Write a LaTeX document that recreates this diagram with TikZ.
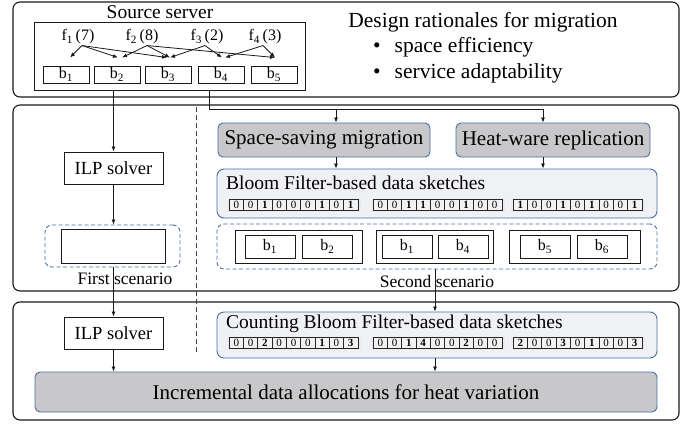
\documentclass[tikz,border=0pt]{standalone}
\usepackage{fontspec}
\setmainfont{Liberation Serif}
\usetikzlibrary{arrows.meta,calc,positioning}
\definecolor{edgeblue}{HTML}{4A6FA5}
\definecolor{boxgray}{HTML}{C8C8CA}
\definecolor{sketchbg}{HTML}{F0F1F4}

% one row of bit cells: name, x, y, values
\newcommand{\sketchrow}[4]{%
  \node[rowbg] (#1) at (#2,#3) {};
  \foreach \v [count=\i] in {#4}
    \node[bitcell] (#1-\i) at ({#2+(\i-5)*14.3},#3) {\ifnum\v>0 \bfseries\fi\v};
}

\begin{document}
\begin{tikzpicture}[
    x=1pt, y=-1pt,
    >={Latex[length=5pt,width=4pt]},
    panel/.style={draw=black!90, line width=1.1pt, rounded corners=7pt},
    plain/.style={draw=black!90, line width=0.9pt, inner sep=0pt},
    blk/.style={plain, minimum width=46pt, minimum height=17pt, font=\fontsize{16}{16}\selectfont},
    flbl/.style={inner sep=1pt, font=\fontsize{16}{16}\selectfont},
    solver/.style={plain, minimum width=99pt, minimum height=32pt, font=\fontsize{18.5}{20}\selectfont},
    method/.style={draw=edgeblue, line width=0.9pt, fill=boxgray, rounded corners=5pt, inner sep=0pt, minimum height=34pt, font=\fontsize{21}{22}\selectfont},
    sketch/.style={draw=edgeblue, line width=0.9pt, fill=sketchbg, rounded corners=7pt, inner sep=0pt, minimum width=440pt},
    scen/.style={draw=edgeblue, dash pattern=on 4pt off 2.5pt, line width=0.9pt, rounded corners=7pt, inner sep=0pt},
    pair/.style={plain, minimum height=33pt},
    pblk/.style={plain, minimum width=50pt, minimum height=23pt, font=\fontsize{16}{16}\selectfont},
    rowbg/.style={fill=black!8, minimum width=134pt, minimum height=13pt, inner sep=0pt},
    bitcell/.style={draw=black!85, line width=0.6pt, fill=white!95!black, minimum width=14.3pt, minimum height=10.5pt, inner sep=0pt, font=\fontsize{11}{11}\selectfont},
    lbl/.style={inner sep=1pt, font=\fontsize{17.5}{18}\selectfont},
    arr/.style={->, draw=black!90, line width=0.8pt}
  ]
  \useasboundingbox (0,0) rectangle (686,429);

  % panels
  \draw[panel] (13,2) rectangle (679,97);
  \draw[panel] (13,105) rectangle (679,291);
  \draw[panel] (13,302) rectangle (679,420);
  \draw[dash pattern=on 5pt off 3pt, black!75, line width=0.8pt] (196,107) -- (196,353);

  % source server
  \node[plain, minimum width=271pt, minimum height=68pt] (srv) at (169.5,56) {};
  \node[inner sep=0pt, font=\fontsize{19.5}{20}\selectfont] (srvtitle) at (160,12) {Source server};
  \node[blk] (b1) at (66,74.5) {b\textsubscript{1}};
  \node[blk] (b2) at (117,74.5) {b\textsubscript{2}};
  \node[blk] (b3) at (168,74.5) {b\textsubscript{3}};
  \node[blk] (b4) at (221,74.5) {b\textsubscript{4}};
  \node[blk] (b5) at (274,74.5) {b\textsubscript{5}};
  \node[flbl] (f1) at (78,37) {f\textsubscript{1}\,(7)};
  \node[flbl] (f2) at (142,37) {f\textsubscript{2}\,(8)};
  \node[flbl] (f3) at (207,37) {f\textsubscript{3}\,(2)};
  \node[flbl] (f4) at (265,37) {f\textsubscript{4}\,(3)};
  \draw[arr] ([xshift=4pt]f1.south) -- ([xshift=4pt,yshift=8pt]b1.north);
  \draw[arr] ([xshift=4pt]f1.south) -- ([xshift=1pt,yshift=8pt]b2.north);
  \draw[arr] ([xshift=4pt]f1.south) -- ([xshift=-1pt,yshift=8pt]b3.north);
  \draw[arr] ([xshift=5pt]f2.south) -- ([xshift=5pt,yshift=8pt]b2.north);
  \draw[arr] ([xshift=5pt]f2.south) -- ([xshift=2pt,yshift=8pt]b3.north);
  \draw[arr] ([xshift=5pt]f2.south) -- ([xshift=1pt,yshift=8pt]b5.north);
  \draw[arr] ([xshift=-2pt]f3.south) -- ([xshift=2pt,yshift=8pt]b3.north);
  \draw[arr] ([xshift=-2pt]f3.south) -- ([xshift=1pt,yshift=8pt]b4.north);
  \draw[arr] ([xshift=-2pt]f4.south) -- ([xshift=4pt,yshift=8pt]b4.north);
  \draw[arr] ([xshift=-2pt]f4.south) -- ([xshift=1pt,yshift=8pt]b5.north);

  % design rationales
  \node[inner sep=0pt, font=\fontsize{21.5}{22}\selectfont] (goal) at (483,22) {Design rationales for migration};
  \node[inner sep=0pt, anchor=west, font=\fontsize{21.5}{22}\selectfont] (goal1) at (373,47) {\textbullet\hspace{14pt}space efficiency};
  \node[inner sep=0pt, anchor=west, font=\fontsize{21.5}{22}\selectfont] (goal2) at (373,73) {\textbullet\hspace{14pt}service adaptability};

  % first scenario
  \node[solver] (ilp1) at (113.5,168) {ILP solver};
  \node[scen, minimum width=135pt, minimum height=42pt] (scen1) at (112.5,246) {};
  \node[plain, minimum width=104pt, minimum height=34pt] (alloc1) at (113,246) {};
  \node[lbl] (scen1lbl) at (125,279) {First scenario};
  \draw[arr] (srv.south -| ilp1) -- (ilp1.north);
  \draw[arr] (ilp1.south) -- (scen1.north -| ilp1);

  % second scenario
  \coordinate (split) at (209,109.5);
  \coordinate (tapA) at (336,109.5);
  \coordinate (tapB) at (543,109.5);
  \node[method, minimum width=212pt] (space) at (324,140) {Space-saving migration};
  \node[method, minimum width=194pt] (heat) at (553,140) {Heat-ware replication};
  \draw[line width=0.8pt, black!90] (srv.south -| split) -- (split) -- (tapA);
  \draw[arr] (tapA) -- (tapB) -- (tapB |- heat.north);
  \draw[arr] (tapA) -- (tapA |- space.north);

  \node[sketch, minimum height=49pt] (bf) at (437,193.5) {};
  \node[inner sep=0pt, anchor=west, font=\fontsize{19.5}{20}\selectfont] (bftitle) at (226,183) {Bloom Filter-based data sketches};
  \draw[arr] (tapA |- space.south) -- (tapA |- bf.north);
  \draw[arr] (tapB |- heat.south) -- (tapB |- bf.north);
  \sketchrow{bfa}{293.5}{205}{0,0,1,0,0,0,1,0,1}
  \sketchrow{bfb}{437.5}{205}{0,0,1,1,0,0,1,0,0}
  \sketchrow{bfc}{577.5}{205}{1,0,0,1,0,1,0,0,1}

  \node[scen, minimum width=440pt, minimum height=45pt] (scen2) at (437,246.5) {};
  \node[pair, minimum width=127pt] (pa) at (298.5,246.5) {};
  \node[pblk] (pa1) at (270,246.5) {b\textsubscript{1}};
  \node[pblk] (pa2) at (327.5,246.5) {b\textsubscript{2}};
  \node[pair, minimum width=117pt] (pb) at (434.5,246.5) {};
  \node[pblk] (pb1) at (407,246.5) {b\textsubscript{1}};
  \node[pblk] (pb2) at (463,246.5) {b\textsubscript{4}};
  \node[pair, minimum width=131pt] (pc) at (574.5,246.5) {};
  \node[pblk] (pc1) at (545,246.5) {b\textsubscript{5}};
  \node[pblk] (pc2) at (602,246.5) {b\textsubscript{6}};
  \node[lbl] (scen2lbl) at (437,282) {Second scenario};

  % heat variation
  \node[solver] (ilp2) at (113.5,333) {ILP solver};
  \node[sketch, minimum height=46pt] (cbf) at (437,335) {};
  \node[inner sep=0pt, anchor=west, font=\fontsize{19.5}{20}\selectfont] (cbftitle) at (226,324) {Counting Bloom Filter-based data sketches};
  \sketchrow{cbfa}{293.5}{343}{0,0,2,0,0,0,1,0,3}
  \sketchrow{cbfb}{437.5}{343}{0,0,1,4,0,0,2,0,0}
  \sketchrow{cbfc}{577.5}{343}{2,0,0,3,0,1,0,0,3}
  \node[method, minimum width=622pt, minimum height=40pt] (incr) at (346,392) {Incremental data allocations for heat variation};

  \draw[arr] (scen1.south -| ilp1) -- (ilp2.north);
  \draw[arr] ([xshift=-2pt]scen2.south) -- ([xshift=-2pt]scen2.south |- cbf.north);
  \draw[arr] (ilp2.south) -- (ilp2.south |- incr.north);
  \draw[arr] ([xshift=-2pt]cbf.south) -- ([xshift=-2pt]cbf.south |- incr.north);
\end{tikzpicture}
\end{document}
